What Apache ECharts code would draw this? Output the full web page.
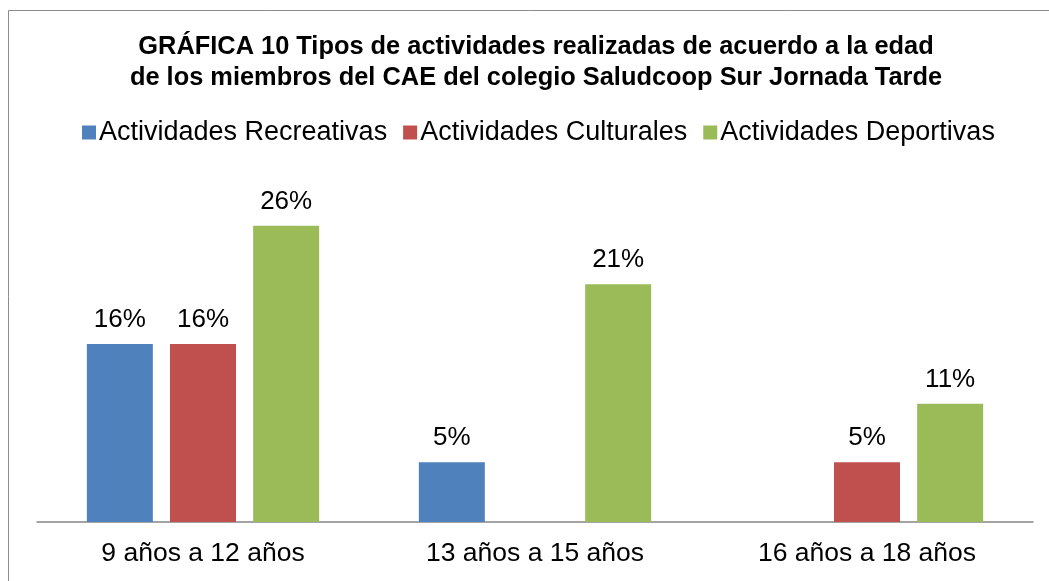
<!DOCTYPE html>
<html>
<head>
    <meta charset="utf-8"/>
    <title>Gráfica 10</title>
    <style type="text/css">
        body, html {
            margin: 0;
            padding: 0;
            background: #ffffff;
        }
        #chart {
            width: 1049px;
            height: 581px;
        }
    </style>
    <script src="https://cdn.jsdelivr.net/npm/echarts@6/dist/echarts.min.js"></script>
</head>
<body>
<div id="chart"></div>
<script type="text/javascript">
    var categorias = ['9 años a 12 años', '13 años a 15 años', '16 años a 18 años'];
    var recreativas = [15.8, 5.3, null];
    var culturales = [15.8, null, 5.3];
    var deportivas = [26.3, 21.1, 10.5];

    var fuente = 'Liberation Sans, Arial, sans-serif';
    var etiqueta = {
        show: true,
        position: 'top',
        distance: 11,
        color: '#000',
        fontFamily: fuente,
        fontSize: 26,
        formatter: function (p) {
            return Math.round(p.value) + '%';
        }
    };
    function serie(nombre, datos, color) {
        return {
            name: nombre,
            type: 'bar',
            data: datos,
            barWidth: 66,
            barGap: '26%',
            itemStyle: {color: color},
            label: etiqueta
        };
    }

    var chart = echarts.init(document.getElementById('chart'));
    chart.setOption({
        animation: false,
        backgroundColor: '#fff',
        graphic: [{
            type: 'rect',
            shape: {x: 8.5, y: 10.5, width: 1100, height: 700},
            style: {fill: 'none', stroke: '#8c8c8c', lineWidth: 1}
        }],
        title: {
            text: 'GRÁFICA 10 Tipos de actividades realizadas de acuerdo a la edad\nde los miembros del CAE del colegio Saludcoop Sur Jornada Tarde',
            left: 531,
            textAlign: 'center',
            top: 27,
            textStyle: {
                fontFamily: fuente,
                fontSize: 25.4,
                fontWeight: 'bold',
                color: '#000',
                lineHeight: 30.5
            }
        },
        legend: {
            top: 114,
            left: 77,
            itemWidth: 14,
            itemHeight: 14,
            itemGap: 16,
            icon: 'rect',
            textStyle: {fontFamily: fuente, fontSize: 27, color: '#000', padding: [0, 0, 0, -2]},
            data: ['Actividades Recreativas', 'Actividades Culturales', 'Actividades Deportivas']
        },
        grid: {left: 37, right: 16, top: 184, bottom: 59},
        xAxis: {
            type: 'category',
            data: categorias,
            axisLine: {lineStyle: {color: '#868686', width: 1.5}},
            axisTick: {show: false},
            axisLabel: {fontFamily: fuente, fontSize: 26.5, color: '#000', margin: 18}
        },
        yAxis: {
            type: 'value',
            min: 0,
            max: 30,
            show: false
        },
        series: [
            serie('Actividades Recreativas', recreativas, '#4f81bd'),
            serie('Actividades Culturales', culturales, '#c0504d'),
            serie('Actividades Deportivas', deportivas, '#9bbb59')
        ]
    });
</script>
</body>
</html>
